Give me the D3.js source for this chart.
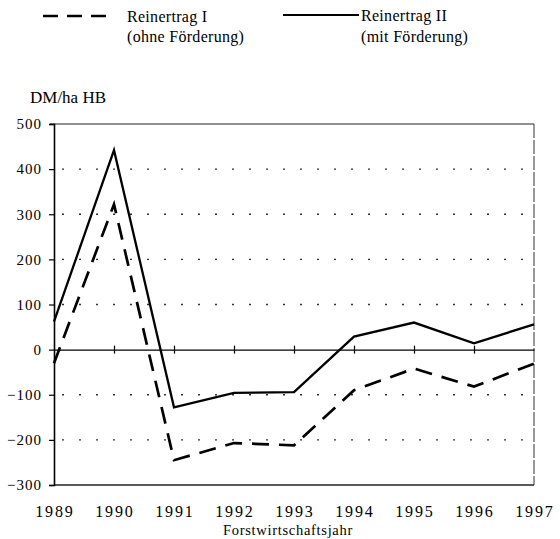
<!DOCTYPE html>
<html>
<head>
<meta charset="utf-8">
<script src="https://cdn.jsdelivr.net/npm/d3@7"></script>
<style>
  body { margin: 0; background: #fff; }
</style>
</head>
<body>
<div id="chart"></div>
<script>
// data
const years = [1989, 1990, 1991, 1992, 1993, 1994, 1995, 1996, 1997];
const reinertragI = [-30, 322, -245, -207, -212, -90, -42, -82, -31];   // ohne Förderung
const reinertragII = [62, 442, -128, -96, -94, 29, 60, 14, 56];        // mit Förderung
const yTicks = [500, 400, 300, 200, 100, 0, -100, -200, -300];
const gridTicks = [400, 300, 200, 100, -100, -200];

const width = 560, height = 539;
const margin = {left: 54, right: 26, top: 124, bottom: 54};
const serif = '"Liberation Serif"';

const svg = d3.select("#chart").append("svg")
    .attr("width", width)
    .attr("height", height);

const x = d3.scaleLinear().domain([1989, 1997]).range([margin.left, width - margin.right]);
const y = d3.scaleLinear().domain([-300, 500]).range([height - margin.bottom, margin.top]);

// dotted grid
svg.append("g").selectAll("line")
    .data(gridTicks)
    .join("line")
    .attr("x1", x(1989) + 8).attr("x2", x(1997))
    .attr("y1", d => y(d)).attr("y2", d => y(d))
    .attr("stroke", "#333")
    .attr("stroke-width", 1.3)
    .attr("stroke-dasharray", "2,15");

// frame: top, bottom, right
svg.append("line").attr("x1", x(1989) - 4).attr("x2", x(1997))
    .attr("y1", y(500)).attr("y2", y(500)).attr("stroke", "#222").attr("stroke-width", 1.2);
svg.append("line").attr("x1", x(1989)).attr("x2", x(1997))
    .attr("y1", y(-300)).attr("y2", y(-300)).attr("stroke", "#222").attr("stroke-width", 1.5);
svg.append("line").attr("x1", x(1997)).attr("x2", x(1997))
    .attr("y1", y(500)).attr("y2", y(-300)).attr("stroke", "#333").attr("stroke-width", 1)
    .attr("stroke-dasharray", "14,2");

// y axis
const yAxis = svg.append("g")
    .attr("transform", `translate(${x(1989)},0)`)
    .call(d3.axisLeft(y).tickValues(yTicks).tickSize(5).tickPadding(7).tickFormat(d3.format("d")));
yAxis.select(".domain").attr("stroke", "#000").attr("stroke-width", 1.6);
yAxis.selectAll(".tick line").attr("stroke", "#000").attr("stroke-width", 1.2);
yAxis.selectAll(".tick text")
    .style("font-family", serif)
    .style("font-size", "15px")
    .attr("fill", "#000")
    .attr("letter-spacing", 1);

// zero line with cross ticks
const zeroAxis = svg.append("g")
    .attr("transform", `translate(0,${y(0)})`)
    .call(d3.axisBottom(x).tickValues(years.slice(1, -1)).tickSize(0).tickFormat(""));
zeroAxis.select(".domain").attr("stroke", "#000").attr("stroke-width", 1.4);
zeroAxis.selectAll(".tick line").attr("y1", -4).attr("y2", 4).attr("stroke", "#000").attr("stroke-width", 1.2);

// year labels
svg.append("g").selectAll("text")
    .data(years)
    .join("text")
    .attr("x", d => x(d) + 0.9)
    .attr("y", 517)
    .attr("text-anchor", "middle")
    .style("font-family", serif)
    .style("font-size", "16px")
    .attr("letter-spacing", 1.8)
    .text(d => d);

svg.append("text")
    .attr("x", 288).attr("y", 535)
    .attr("text-anchor", "middle")
    .style("font-family", serif)
    .style("font-size", "14.5px")
    .attr("letter-spacing", 0.7)
    .text("Forstwirtschaftsjahr");

svg.append("text")
    .attr("x", 30).attr("y", 103)
    .style("font-family", serif)
    .style("font-size", "17px")
    .text("DM/ha HB");

// lines
const line = d3.line().x((d, i) => x(years[i])).y(d => y(d));

svg.append("path")
    .datum(reinertragII)
    .attr("d", line)
    .attr("fill", "none")
    .attr("stroke", "#000")
    .attr("stroke-width", 2.3)
    .attr("stroke-linejoin", "miter");

svg.append("path")
    .datum(reinertragI)
    .attr("d", line)
    .attr("fill", "none")
    .attr("stroke", "#000")
    .attr("stroke-width", 2.7)
    .attr("stroke-dasharray", "17,10");

// legend
const legend = svg.append("g");
legend.append("line").attr("x1", 43).attr("x2", 108).attr("y1", 16).attr("y2", 16)
    .attr("stroke", "#000").attr("stroke-width", 2.4).attr("stroke-dasharray", "15,9");
legend.append("line").attr("x1", 283).attr("x2", 359).attr("y1", 15).attr("y2", 15)
    .attr("stroke", "#000").attr("stroke-width", 2);

const legendText = [
  {x: 127, y: 22, t: "Reinertrag I"},
  {x: 127, y: 42, t: "(ohne Förderung)"},
  {x: 361, y: 21, t: "Reinertrag II"},
  {x: 361, y: 42, t: "(mit Förderung)"}
];
legend.selectAll("text").data(legendText).join("text")
    .attr("x", d => d.x).attr("y", d => d.y)
    .style("font-family", serif)
    .style("font-size", "16px")
    .attr("letter-spacing", 0.3)
    .text(d => d.t);
</script>
</body>
</html>
